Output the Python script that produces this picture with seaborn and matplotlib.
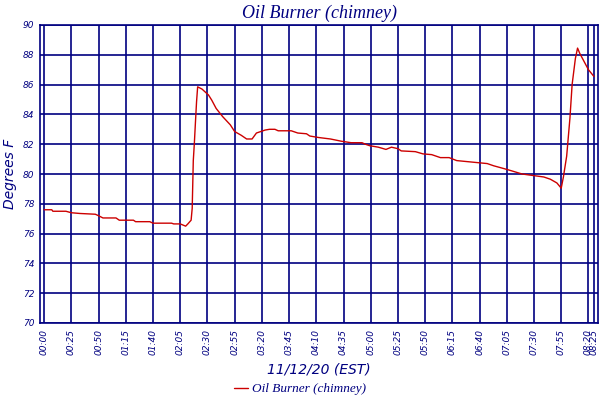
import matplotlib
matplotlib.use("Agg")
import matplotlib.pyplot as plt
import pandas as pd
import seaborn as sns

NAVY = "#000080"
RED = "#cc0000"

# minutes after 00:00 on 11/12/20
minutes = [0, 7, 8, 20, 25, 33, 47, 50, 54, 66, 69, 82, 84, 97, 100, 117, 119,
           125, 130, 132, 135, 136, 137, 138, 139, 140, 141, 145, 148, 151, 154,
           158, 164, 171, 175, 181, 186, 191, 195, 203, 207, 212, 215, 227, 233,
           241, 244, 252, 263, 273, 282, 292, 295, 299, 307, 314, 319, 325, 328,
           341, 348, 356, 364, 372, 379, 393, 407, 413, 423, 430, 439, 449, 459,
           465, 471, 475, 477, 480, 483, 485, 488, 490, 492, 500, 505]
temps = [77.6, 77.6, 77.5, 77.5, 77.4, 77.35, 77.3, 77.2, 77.05, 77.05, 76.9,
         76.9, 76.8, 76.8, 76.7, 76.7, 76.65, 76.65, 76.5, 76.65, 76.9, 77.7,
         80.9, 82.1, 83.5, 84.85, 85.85, 85.7, 85.5, 85.3, 84.95, 84.4, 83.85,
         83.3, 82.85, 82.6, 82.35, 82.35, 82.75, 82.95, 83.0, 83.0, 82.9, 82.9,
         82.75, 82.7, 82.55, 82.45, 82.35, 82.2, 82.1, 82.1, 82.0, 81.9, 81.8,
         81.65, 81.8, 81.7, 81.55, 81.5, 81.35, 81.3, 81.1, 81.1, 80.9, 80.8,
         80.7, 80.55, 80.35, 80.2, 80.0, 79.9, 79.8, 79.65, 79.4, 79.05, 79.8,
         81.2, 83.75, 86.0, 87.75, 88.45, 88.1, 87.0, 86.55]

tick_minutes = list(range(0, 501, 25)) + [505]
tick_labels = [f"{m // 60:02d}:{m % 60:02d}" for m in tick_minutes]
y_ticks = list(range(70, 91, 2))

df = pd.DataFrame({"minute": minutes, "temp": temps})

sns.set_style("white")
plt.rcParams["font.family"] = ["DejaVu Sans"]

fig, ax = plt.subplots(figsize=(6, 4), dpi=100)
fig.subplots_adjust(left=0.0667, right=0.9967, top=0.9375, bottom=0.1925)

sns.lineplot(data=df, x="minute", y="temp", ax=ax, color=RED, linewidth=1.0,
             label="Oil Burner (chimney)")

ax.set_xlim(-3.8, 508.8)
ax.set_ylim(70, 90)
ax.set_xticks(tick_minutes)
ax.set_xticklabels(tick_labels, rotation=90, fontsize=6.5, style="italic",
                   color=NAVY)
ax.set_yticks(y_ticks)
ax.set_yticklabels([str(v) for v in y_ticks], fontsize=6.5, style="italic",
                   color=NAVY)
ax.tick_params(length=0, pad=4)

ax.grid(True, color=NAVY, linewidth=1.2)
for sp in ax.spines.values():
    sp.set_color(NAVY)
    sp.set_linewidth(1.2)

ax.set_title("Oil Burner (chimney)", family="Liberation Serif", style="italic",
             fontsize=13, color=NAVY, pad=5)
ax.set_xlabel("11/12/20 (EST)", fontsize=10, style="italic", color=NAVY,
              labelpad=6)
ax.set_ylabel("Degrees F", fontsize=10, style="italic", color=NAVY,
              labelpad=4)

leg = ax.legend(loc="center", bbox_to_anchor=(0.5, 0.027),
                bbox_transform=fig.transFigure, frameon=False,
                handlelength=1.0, handletextpad=0.3,
                prop={"family": "Liberation Serif", "style": "italic",
                      "size": 9.5})
for t in leg.get_texts():
    t.set_color(NAVY)

fig.savefig("out.png", dpi=100)
